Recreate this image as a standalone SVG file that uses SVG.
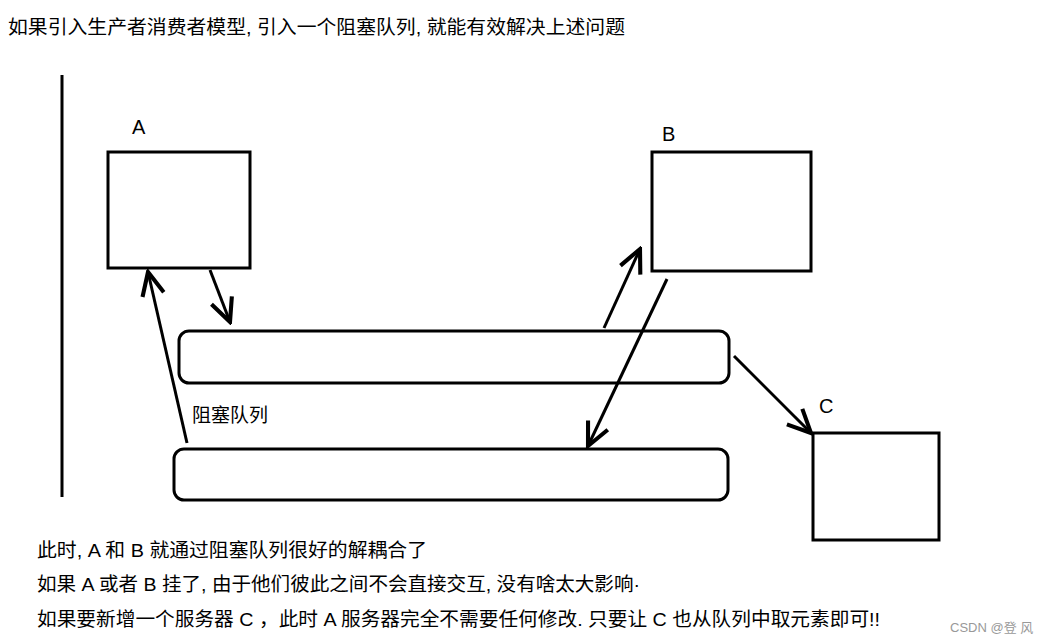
<svg xmlns="http://www.w3.org/2000/svg" width="1043" height="643" viewBox="0 0 1043 643">
<style>
.t{font-family:"Liberation Sans","Noto Sans CJK SC",sans-serif;fill:#000}
.lbl{font-family:"Liberation Sans",sans-serif;font-size:20px;fill:#000}
.box{fill:#fff;stroke:#000;stroke-width:3}
.q{fill:#fff;stroke:#000;stroke-width:3}
.c{stroke:#000;stroke-width:3;fill:none;marker-end:url(#ah)}
</style>
<defs>
<marker id="ah" markerUnits="userSpaceOnUse" markerWidth="30" markerHeight="30" viewBox="-20 -10 22 20" refX="0" refY="0" orient="auto">
<path d="M-17,-8 L0,0 L-17,8" fill="none" stroke="#000" stroke-width="3"/>
</marker>
</defs>
<rect width="1043" height="643" fill="#fff"/>
<text class="t" x="8" y="34" font-size="19" textLength="617" lengthAdjust="spacingAndGlyphs">如果引入生产者消费者模型, 引入一个阻塞队列, 就能有效解决上述问题</text>
<line x1="62" y1="75" x2="62" y2="497" stroke="#000" stroke-width="3"/>
<g id="nodeA">
<rect class="box" x="108" y="152" width="142" height="116"/>
<text class="lbl" x="132" y="134">A</text>
</g>
<g id="nodeB">
<rect class="box" x="652" y="152" width="159" height="119"/>
<text class="lbl" x="662" y="141">B</text>
</g>
<g id="nodeC">
<rect class="box" x="813" y="433" width="126" height="107"/>
<text class="lbl" x="819" y="413">C</text>
</g>
<g id="queue1">
<rect class="q" x="179" y="331" width="550" height="52" rx="10"/>
</g>
<g id="queue2">
<rect class="q" x="174" y="449" width="554" height="51" rx="10"/>
<text class="t" x="192" y="422" font-size="19">阻塞队列</text>
</g>
<g id="connectors">
<line class="c" x1="210" y1="270" x2="230" y2="322"/>
<line class="c" x1="187" y1="443" x2="148" y2="272"/>
<line class="c" x1="604" y1="328" x2="640" y2="249"/>
<line class="c" x1="667" y1="279" x2="588" y2="446"/>
<line class="c" x1="734" y1="356" x2="811" y2="433"/>
</g>
<text class="t" x="37" y="557" font-size="19" textLength="390" lengthAdjust="spacingAndGlyphs">此时, A 和 B 就通过阻塞队列很好的解耦合了</text>
<text class="t" x="37" y="591" font-size="19" textLength="603" lengthAdjust="spacingAndGlyphs">如果 A 或者 B 挂了, 由于他们彼此之间不会直接交互, 没有啥太大影响·</text>
<text class="t" x="37" y="626" font-size="19" textLength="843" lengthAdjust="spacingAndGlyphs">如果要新增一个服务器 C ，此时 A 服务器完全不需要任何修改. 只要让 C 也从队列中取元素即可!!</text>
<text class="t" x="950" y="632" font-size="13" style="fill:#999">CSDN @登 风</text>
</svg>
